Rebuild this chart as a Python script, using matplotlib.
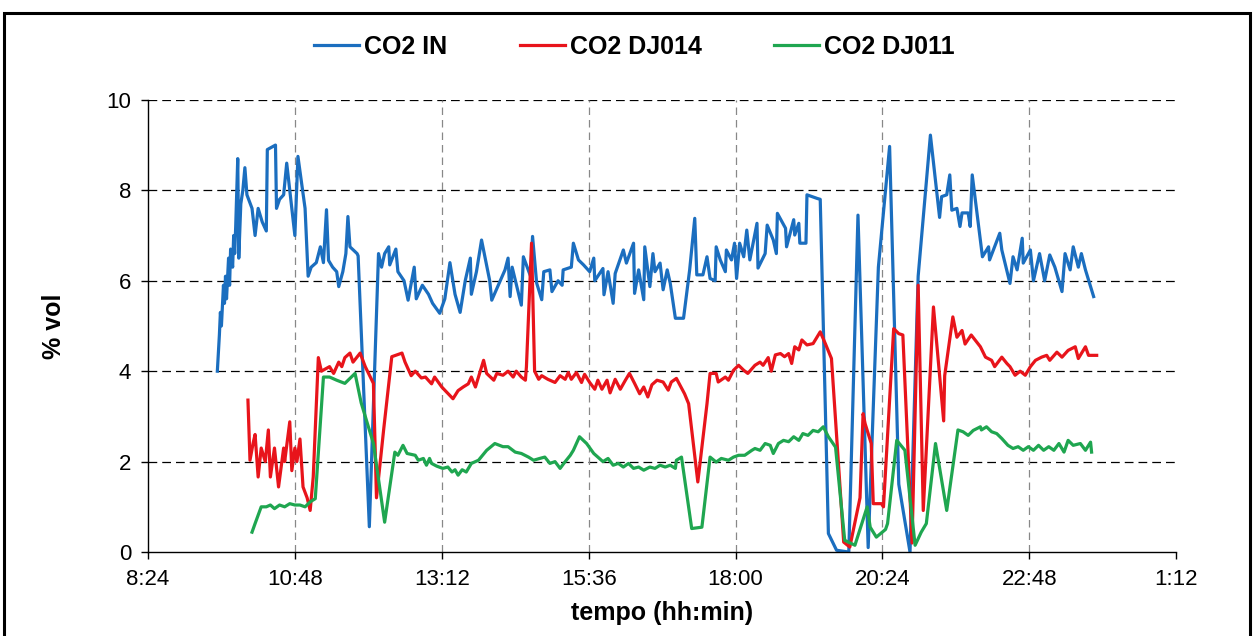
import matplotlib
matplotlib.use("Agg")
import matplotlib.pyplot as plt
from matplotlib.patches import Rectangle
from matplotlib.ticker import FuncFormatter, FixedLocator, MultipleLocator

plt.rcParams['font.family'] = ['Liberation Sans', 'DejaVu Sans']

# tempo in minuti dalla mezzanotte, valori in % vol
t_in = [572, 574, 575, 576, 578, 579, 580, 581, 583, 584, 585, 587, 588, 589, 590, 592, 593, 595, 597, 599,
        601, 606, 609, 612, 616, 620, 621, 629, 630, 633, 637, 640, 644, 648, 651, 655, 658, 661, 664, 669,
        673, 676, 679, 681, 685, 689, 691, 695, 698, 700, 702, 709, 710, 721, 730, 733, 736, 740, 741, 747,
        749, 755, 759, 765, 767, 773, 779, 783, 790, 795, 800, 805, 810, 815, 820, 821, 826, 831, 839, 841,
        854, 857, 859, 861, 870, 872, 879, 881, 885, 890, 892, 898, 900, 906, 910, 911, 919, 921, 926, 931,
        937, 941, 942, 950, 951, 955, 960, 962, 970, 973, 980, 981, 985, 990, 991, 996, 999, 1001, 1006, 1009,
        1013, 1016, 1021, 1029, 1035, 1040, 1042, 1048, 1052, 1055, 1060, 1061, 1065, 1070, 1071, 1076, 1079, 1081, 1084, 1088,
        1091, 1094, 1101, 1102, 1109, 1111, 1117, 1120, 1121, 1129, 1130, 1137, 1138, 1142, 1143, 1149, 1150, 1160, 1163, 1171,
        1179, 1191, 1200, 1210, 1220, 1231, 1240, 1251, 1259, 1271, 1280, 1282, 1287, 1290, 1292, 1297, 1300, 1302, 1308, 1310,
        1312, 1322, 1328, 1329, 1339, 1341, 1349, 1352, 1356, 1361, 1362, 1369, 1372, 1378, 1383, 1388, 1393, 1400, 1403, 1408,
        1411, 1416, 1419, 1423, 1431]
co2_in = [4.0, 4.8, 5.3, 5.0, 5.9, 5.5, 6.1, 5.6, 6.5, 5.9, 6.7, 6.3, 7.0, 6.6, 7.2, 8.7, 6.5, 7.7, 8.0, 8.5,
          7.9, 7.6, 7.0, 7.6, 7.3, 7.1, 8.9, 9.0, 7.6, 7.8, 7.9, 8.6, 7.8, 7.0, 8.75, 8.1, 7.6, 6.1, 6.3, 6.4,
          6.75, 6.4, 7.57, 6.45, 6.3, 6.2, 5.87, 6.2, 6.6, 7.42, 6.75, 6.6, 6.55, 0.56, 6.6, 6.3, 6.6, 6.75, 6.35, 6.7,
          6.2, 6.0, 5.57, 6.3, 5.6, 5.9, 5.7, 5.5, 5.28, 5.6, 6.4, 5.7, 5.3, 6.0, 6.5, 5.7, 6.2, 6.9, 6.0, 5.57,
          6.24, 6.5, 5.65, 6.3, 5.46, 6.53, 6.1, 6.98, 5.95, 5.58, 6.2, 6.24, 5.76, 6.0, 5.9, 6.24, 6.3, 6.83, 6.46, 6.35,
          6.2, 6.5, 6.0, 6.27, 5.69, 6.2, 5.5, 6.16, 6.68, 6.39, 6.83, 5.72, 6.24, 5.58, 6.75, 5.87, 6.6, 6.2, 6.39, 5.8,
          6.24, 5.94, 5.17, 5.17, 6.24, 7.38, 6.13, 6.13, 6.53, 6.05, 6.0, 6.75, 6.46, 6.2, 6.68, 6.46, 6.83, 6.05, 6.83, 6.53,
          7.12, 6.46, 7.27, 6.28, 6.6, 7.23, 6.9, 6.6, 7.49, 7.16, 6.75, 7.35, 7.01, 7.27, 6.83, 6.83, 7.9, 7.82, 7.8, 0.41,
          0.04, 0.0, 7.45, 0.1, 6.3, 8.97, 1.5, 0.0, 6.1, 9.22, 7.4, 7.86, 7.9, 8.34, 7.56, 7.6, 7.2, 7.5, 7.5, 7.2,
          8.34, 6.53, 6.75, 6.46, 7.05, 6.68, 5.94, 6.53, 6.24, 6.94, 6.39, 6.68, 6.0, 6.6, 6.0, 6.57, 6.3, 5.76, 6.6, 6.24,
          6.75, 6.3, 6.6, 6.24, 5.65]

t_dj014 = [602, 604, 607, 609, 612, 615, 619, 622, 624, 628, 632, 637, 638, 643, 645, 648, 650, 653, 656, 660,
           663, 666, 671, 674, 682, 686, 691, 694, 697, 702, 705, 712, 717, 725, 728, 735, 743, 753, 756, 762,
           766, 772, 776, 782, 785, 792, 803, 808, 813, 818, 821, 825, 833, 836, 843, 846, 852, 857, 862, 865,
           870, 874, 875, 880, 883, 887, 890, 896, 903, 908, 913, 916, 919, 924, 929, 932, 937, 942, 945, 949,
           954, 957, 962, 967, 972, 976, 981, 986, 990, 994, 998, 1003, 1009, 1014, 1017, 1022, 1030, 1034, 1043, 1052,
           1055, 1061, 1063, 1070, 1073, 1078, 1083, 1088, 1092, 1099, 1104, 1107, 1112, 1115, 1119, 1124, 1128, 1132, 1135, 1138,
           1142, 1145, 1150, 1156, 1163, 1168, 1174, 1186, 1192, 1202, 1205, 1207, 1213, 1215, 1223, 1225, 1235, 1240, 1244, 1253,
           1259, 1264, 1274, 1284, 1285, 1293, 1297, 1302, 1305, 1311, 1320, 1325, 1331, 1334, 1341, 1346, 1349, 1354, 1359, 1364,
           1369, 1374, 1380, 1385, 1388, 1395, 1400, 1406, 1413, 1416, 1423, 1426, 1434]
co2_dj014 = [3.36, 2.03, 2.4, 2.6, 1.66, 2.3, 2.0, 2.7, 1.66, 2.3, 1.44, 2.3, 2.0, 2.88, 1.8, 2.3, 2.0, 2.5, 1.44, 1.2,
             0.92, 1.66, 4.3, 4.0, 4.1, 3.95, 4.2, 4.1, 4.3, 4.4, 4.2, 4.4, 4.1, 3.73, 1.2, 2.7, 4.32, 4.4, 4.2, 3.9,
             4.0, 3.85, 3.87, 3.72, 3.87, 3.65, 3.39, 3.57, 3.65, 3.72, 3.87, 3.65, 4.24, 3.95, 3.8, 3.95, 3.91, 4.0, 3.87, 4.0,
             3.87, 3.8, 4.1, 6.83, 4.0, 3.82, 3.9, 3.82, 3.75, 3.9, 3.82, 3.97, 3.82, 3.97, 3.75, 3.93, 3.75, 3.6, 3.8, 3.6,
             3.8, 3.52, 3.82, 3.6, 3.8, 3.95, 3.73, 3.5, 3.65, 3.43, 3.7, 3.8, 3.76, 3.58, 3.76, 3.84, 3.5, 3.28, 1.55, 3.28,
             3.95, 3.95, 3.76, 3.87, 3.8, 4.02, 4.13, 4.02, 3.95, 4.13, 4.2, 4.13, 4.3, 4.0, 4.36, 4.39, 4.32, 4.39, 4.17, 4.54,
             4.47, 4.69, 4.58, 4.61, 4.87, 4.61, 4.28, 0.22, 0.11, 1.2, 3.06, 2.84, 2.4, 1.07, 1.07, 1.0, 4.94, 4.83, 4.8, 0.2,
             5.9, 0.92, 5.42, 2.9, 3.9, 5.2, 4.75, 4.9, 4.6, 4.8, 4.54, 4.31, 4.24, 4.1, 4.31, 4.17, 4.1, 3.91, 4.0, 3.91,
             4.1, 4.24, 4.31, 4.35, 4.24, 4.42, 4.31, 4.46, 4.54, 4.28, 4.54, 4.35, 4.35]

t_dj011 = [606, 609, 615, 620, 624, 628, 633, 638, 643, 648, 653, 658, 663, 668, 676, 682, 689, 697, 707, 713,
           725, 736, 746, 749, 754, 758, 766, 769, 774, 777, 780, 782, 787, 793, 798, 802, 805, 808, 812, 816,
           821, 828, 836, 844, 852, 857, 864, 870, 877, 882, 888, 893, 898, 903, 908, 913, 918, 921, 927, 934,
           941, 945, 950, 955, 960, 965, 970, 975, 980, 985, 990, 996, 1001, 1006, 1011, 1016, 1021, 1022, 1027, 1037,
           1047, 1055, 1061, 1066, 1073, 1078, 1083, 1089, 1096, 1099, 1104, 1109, 1114, 1117, 1122, 1127, 1132, 1137, 1142, 1146,
           1151, 1156, 1161, 1166, 1171, 1178, 1187, 1197, 1209, 1212, 1218, 1227, 1229, 1238, 1246, 1256, 1262, 1267, 1276, 1287,
           1298, 1303, 1308, 1313, 1320, 1321, 1326, 1331, 1336, 1341, 1347, 1352, 1357, 1362, 1367, 1372, 1377, 1382, 1387, 1392,
           1397, 1402, 1406, 1411, 1418, 1423, 1428, 1429]
co2_dj011 = [0.44, 0.63, 1.0, 1.0, 1.04, 0.96, 1.04, 1.0, 1.07, 1.04, 1.04, 1.0, 1.11, 1.18, 3.87, 3.87, 3.8, 3.73, 3.95, 3.3,
             2.4, 0.66, 2.21, 2.14, 2.36, 2.18, 2.14, 2.03, 2.07, 1.92, 2.07, 1.96, 1.9, 1.85, 1.88, 1.77, 1.82, 1.7, 1.82, 1.77,
             1.96, 2.03, 2.25, 2.4, 2.33, 2.33, 2.21, 2.18, 2.1, 2.03, 2.07, 2.1, 1.96, 2.0, 1.85, 2.0, 2.14, 2.25, 2.55, 2.4,
             2.18, 2.1, 2.0, 2.07, 1.92, 1.96, 1.88, 1.96, 1.85, 1.88, 1.81, 1.88, 1.85, 1.92, 1.88, 1.92, 1.85, 2.03, 2.1, 0.52,
             0.55, 2.1, 1.99, 2.07, 2.03, 2.1, 2.14, 2.14, 2.25, 2.29, 2.25, 2.4, 2.36, 2.18, 2.4, 2.47, 2.44, 2.55, 2.47, 2.62,
             2.58, 2.69, 2.66, 2.77, 2.55, 2.32, 0.26, 0.15, 1.0, 0.55, 0.33, 0.5, 0.63, 2.47, 2.25, 0.15, 0.44, 0.63, 2.4, 0.92,
             2.7, 2.66, 2.58, 2.69, 2.77, 2.7, 2.77, 2.66, 2.62, 2.51, 2.36, 2.29, 2.33, 2.25, 2.33, 2.25, 2.36, 2.25, 2.33, 2.25,
             2.4, 2.21, 2.47, 2.36, 2.4, 2.25, 2.43, 2.21]

labels = ['CO2 IN', 'CO2 DJ014', 'CO2 DJ011']
colors = ['#1b6ebf', '#e8141b', '#1fa650']

# asse x: da 8:24 a 1:12 (giorno dopo), passo 2:24
x_ticks = [504, 648, 792, 936, 1080, 1224, 1368, 1512]


def hhmm(x, pos):
    m = int(round(x))
    return f"{(m // 60) % 24}:{m % 60:02d}"


fig = plt.figure(figsize=(12.54, 6.36), dpi=100)
ax = fig.add_axes([0.118, 0.132, 0.820, 0.711])

ax.plot(t_in, co2_in, color=colors[0], lw=2.3, label=labels[0])
ax.plot(t_dj014, co2_dj014, color=colors[1], lw=2.3, label=labels[1])
ax.plot(t_dj011, co2_dj011, color=colors[2], lw=2.3, label=labels[2])

ax.set_xlim(x_ticks[0], x_ticks[-1])
ax.set_ylim(0, 10)
ax.xaxis.set_major_locator(FixedLocator(x_ticks))
ax.xaxis.set_major_formatter(FuncFormatter(hhmm))
ax.yaxis.set_major_locator(MultipleLocator(2))

# griglia: orizzontale nera tratteggiata, verticale grigia
for y in range(2, 11, 2):
    ax.axhline(y, color='black', lw=0.9, dashes=(7, 4), zorder=0)
for x in x_ticks[1:-1]:
    ax.axvline(x, color='#888888', lw=0.9, dashes=(6, 4), zorder=0)

for s in ['top', 'right']:
    ax.spines[s].set_visible(False)
for s in ['left', 'bottom']:
    ax.spines[s].set_color('black')
    ax.spines[s].set_linewidth(1.0)

ax.tick_params(axis='both', direction='out', length=5, width=1, labelsize=16, colors='black')
ax.tick_params(axis='x', pad=7)
ax.tick_params(axis='y', pad=7)

ax.set_xlabel('tempo (hh:min)', fontsize=18, fontweight='bold', labelpad=8)
ax.set_ylabel('% vol', fontsize=18, fontweight='bold', labelpad=29)

fig.legend(loc='center', bbox_to_anchor=(0.506, 0.926), ncol=3, frameon=False,
           prop={'size': 18, 'weight': 'bold'}, handlelength=1.8, handletextpad=0.2,
           columnspacing=2.9)

# cornice del grafico
fig.patches.append(Rectangle((0.003, -0.01), 0.994, 0.99, transform=fig.transFigure,
                             fill=False, edgecolor='black', lw=2.2))

fig.savefig('out.png', dpi=100)
